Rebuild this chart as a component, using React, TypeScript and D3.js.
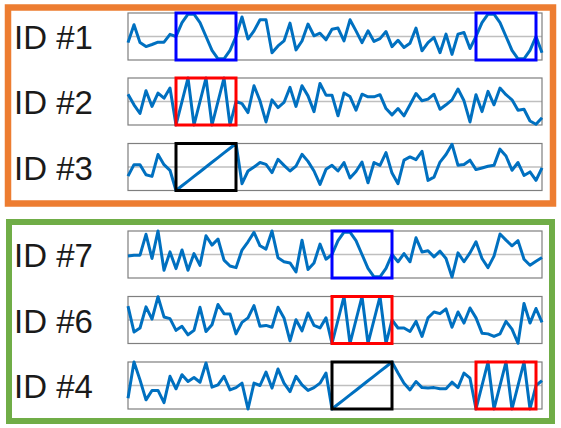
import React from 'react';
import * as d3 from 'd3';

const sineWin = [0, 0.59, 0.95, 0.95, 0.59, 0, -0.59, -0.95, -0.95, -0.59, 0];
const sawWin = [-1, 0, 1, -1, 0, 1, -1, 0, 1, -1, 0];
const rampWin = [-1, -0.8, -0.6, -0.4, -0.2, 0, 0.2, 0.4, 0.6, 0.8, 1];

const id1 = [
  -0.26, 0.5, -0.26, -0.43, -0.34, -0.24, -0.24, 0.09,
  ...sineWin,
  0.83, -0.11, 0.24, 0.71, 0.71, -0.69, -0.4, -0.19, 0.57, -0.57, -0.19, 0.53, 0.03, 0.14, -0.14,
  0.31, 0.36, -0.19, 0.71, 0.24, -0.26, 0.24, -0.21, -0.09, 0.21, -0.43, -0.16, -0.47, -0.29,
  0.36, -0.61, -0.26, -0.04, -0.69, 0.1, -0.76, 0.1, 0.17, -0.51,
  ...sineWin,
  -0.69,
];
const id2 = [
  0.31, -0.14, -0.51, 0.46, -0.21, 0.36, 0.14, 0.57,
  ...sawWin,
  -0.09, -0.47, 0.67, 0.03, -0.87, 0.07, -0.26, -0.04, 0.6, -0.21, 0.67, 0.24, -0.43, 0.77, 0.27,
  0.27, -0.61, 0.36, 0.21, -0.37, 0.31, 0.2, 0.2, 0.29, -0.3, -0.57, -0.3, -0.61, -0.14, 0.34,
  0.03, 0.1, 0.31, -0.33, -0.14, 0.07, 0.53, 0.03, -0.87, 0.29, -0.43, 0.43, -0.14, 0.57, 0.29,
  0.07, -0.37, -0.33, -0.83, -0.97, -0.69,
];
const id3 = [
  -0.39, 0.1, 0.1, -0.33, -0.4, 0.53, 0.1, -0.14,
  ...rampWin,
  -0.71, -0.17, 0, 0.19, 0.11, -0.24, 0.33, 0.07, -0.17, 0.04, 0.54, 0.24, -0.17, -0.74, -0.1,
  0.07, -0.17, 0.19, -0.47, -0.19, 0.21, -0.67, 0.19, 0.07, 0.61, -0.26, -0.71, 0.29, 0.43,
  0.31, 0.67, -0.57, -0.43, 0.21, 0.53, 0.97, 0.07, 0.11, 0.29, -0.11, -0.04, 0.03, 0.07, 0.76,
  0.47, -0.14, 0.19, -0.36, -0.21, -0.57, -0.04,
];
const id7 = [
  -0.06, -0.03, -0.03, 0.86, -0.17, 1.0, -0.67, 0.11, -0.6, 0.19, -0.67, 0.04, -0.46, 0.8, 0.4,
  0.66, -0.24, -0.49, -0.56, 0.19, 0.54, 0.94, 0.37, 0.23, 1.0, -0.14, -0.31, -0.36, -0.74, 0.61,
  -0.64, -0.36, 0.44, -0.2,
  ...sineWin,
  -0.31, 0.04, -0.31, 0.71, 0.11, 0.16, -0.1, 0.14, -0.17, -0.96, 0.07, -0.31, 0.07, 0.54, -0.17,
  -0.56, -0.07, 0.87, 0.61, 0.37, 0.59, -0.2, -0.46, -0.29, -0.13,
];
const id6 = [
  0.59, -0.51, -0.34, 0.56, 0.04, 0.99, 0.13, 0.06, -0.44, -0.27, -0.63, -0.44, 0.54, -0.49, -0.2,
  0.66, 0.27, 0.26, -0.59, -0.1, 0.09, 0.61, -0.27, -0.23, -0.31, 0.54, 0.09, -0.89, 0.01, -0.46,
  0.3, -0.23, -0.34, 0.09,
  ...sawWin,
  -0.34, -0.34, -0.49, -0.06, -0.7, 0.09, 0.34, 0.27, 0.47, -0.31, 0.34, -0.13, 0.51, 0.09, -0.56,
  -0.59, -0.7, -0.59, -0.06, -0.39, -0.99, 0.7, -0.13, 0.49, -0.1,
];
const id4 = [
  -0.54, 1.0, 0.24, -0.61, -0.21, -0.21, -0.73, 0.39, -0.14, 0.46, 0.17, 0.34, 0.14, 0.96, -0.07,
  0.03, 0.39, -0.19, -0.09, 0.1, -1.0, 0.1, 0, 0.57, -0.11, 0.7, 0.1, -0.26, 0.39, 0.03, -0.21,
  -0.09, 0.1, 0.53,
  ...rampWin,
  0.53, 0.1, -0.19, 0.17, -0.09, -0.11, -0.09, -0.14, -0.14, 0.14, -0.09, 0.53, 0.31,
  ...sawWin,
  0.21,
];

const labels = ['ID #1', 'ID #2', 'ID #3', 'ID #7', 'ID #6', 'ID #4'];
const series = [id1, id2, id3, id7, id6, id4];
// highlighted windows per row: [startIndex, endIndex, colour]
const windows: [number, number, string][][] = [
  [[8, 18, '#0000ff'], [58, 68, '#0000ff']],
  [[8, 18, '#ff0000']],
  [[8, 18, '#000000']],
  [[34, 44, '#0000ff']],
  [[34, 44, '#ff0000']],
  [[34, 44, '#000000'], [58, 68, '#ff0000']],
];
const rowTops = [13, 78, 143.5, 231, 296.5, 362];

const App = () => {
  const W = 561;
  const H = 428;
  const rowH = 47;
  const x = d3.scaleLinear().domain([0, 69]).range([128, 542]);

  return (
    <svg width={W} height={H} style={{ position: 'absolute', left: 0, top: 0, background: '#fff' }}>
      <rect x={8} y={7.5} width={545} height={196} fill="none" stroke="#ed7d31" strokeWidth={6.5} />
      <rect x={9} y={222} width={543} height={199} fill="none" stroke="#70ad47" strokeWidth={6} />
      {series.map((vals, r) => {
        const top = rowTops[r];
        const y = d3.scaleLinear().domain([-1, 1]).range([top + rowH, top]);
        const line = d3.line<number>().x((d, i) => x(i)).y(d => y(d));
        return (
          <g key={r}>
            <text
              x={14}
              y={y(0) + 12.5}
              fontFamily="'Liberation Sans', Arial, Helvetica, sans-serif"
              fontSize={33}
              fill="#1a1a1a"
            >
              {labels[r]}
            </text>
            <line x1={x(0)} x2={x(69)} y1={y(0)} y2={y(0)} stroke="#bfbfbf" strokeWidth={1.5} />
            <rect x={x(0)} y={top} width={x(69) - x(0)} height={rowH} fill="none" stroke="#7f7f7f" strokeWidth={1.2} />
            <path d={line(vals) || ''} fill="none" stroke="#0070c0" strokeWidth={3} strokeLinejoin="round" />
            {windows[r].map(([s, e, c], k) => (
              <rect
                key={k}
                x={x(s)}
                y={top}
                width={x(e) - x(s)}
                height={rowH}
                fill="none"
                stroke={c}
                strokeWidth={3}
              />
            ))}
          </g>
        );
      })}
    </svg>
  );
};

export default App;
